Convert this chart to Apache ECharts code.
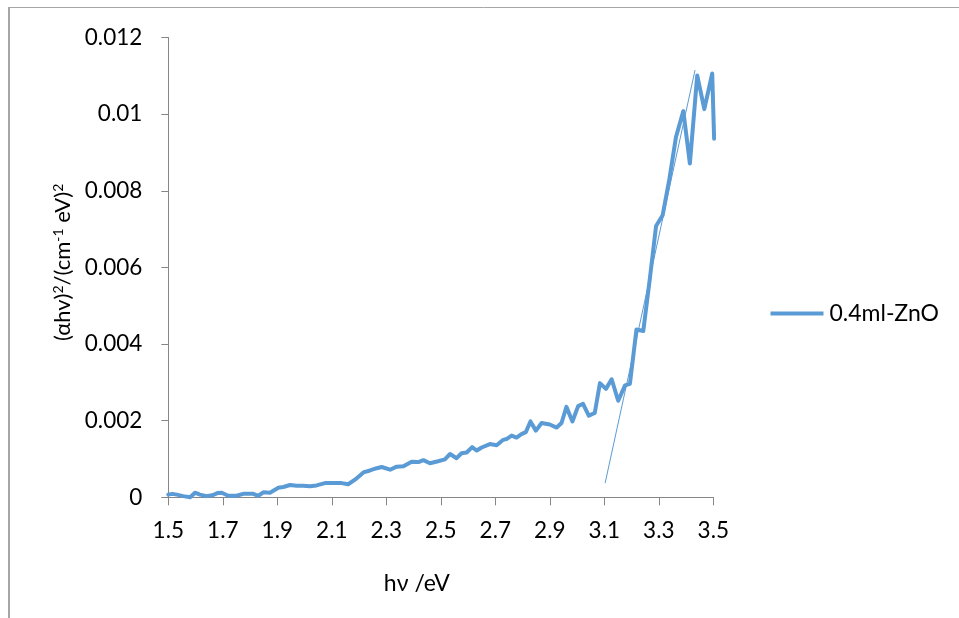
<!DOCTYPE html>
<html><head><meta charset="utf-8">
<script src="https://cdn.jsdelivr.net/npm/echarts@6/dist/echarts.min.js"></script>
<style>html,body{margin:0;padding:0;background:#fff}#c{width:959px;height:618px}</style>
</head><body><div id="c"></div>
<script>
const seriesName = '0.4ml-ZnO';
const hv = [1.500,1.515,1.531,1.555,1.580,1.598,1.616,1.641,1.665,1.680,1.696,1.720,1.750,1.775,1.812,1.830,1.849,1.873,1.904,1.922,1.947,1.971,1.995,2.020,2.044,2.075,2.105,2.136,2.160,2.185,2.216,2.240,2.265,2.283,2.314,2.338,2.363,2.393,2.418,2.436,2.460,2.490,2.515,2.534,2.558,2.576,2.595,2.615,2.632,2.650,2.680,2.705,2.729,2.741,2.760,2.778,2.796,2.812,2.829,2.849,2.870,2.900,2.925,2.943,2.961,2.983,3.004,3.022,3.043,3.065,3.084,3.106,3.127,3.151,3.176,3.194,3.218,3.243,3.267,3.290,3.314,3.339,3.363,3.390,3.414,3.441,3.467,3.496,3.503];
const ahv2 = [0.00007,0.00009,0.00007,0.00003,0.00000,0.00012,0.00007,0.00003,0.00006,0.00011,0.00012,0.00004,0.00004,0.00009,0.00009,0.00004,0.00013,0.00012,0.00025,0.00027,0.00032,0.00030,0.00030,0.00029,0.00031,0.00037,0.00037,0.00037,0.00034,0.00046,0.00065,0.00070,0.00076,0.00079,0.00072,0.00080,0.00081,0.00093,0.00092,0.00097,0.00089,0.00094,0.00099,0.00113,0.00102,0.00115,0.00117,0.00131,0.00122,0.00130,0.00139,0.00136,0.00150,0.00152,0.00161,0.00156,0.00165,0.00170,0.00198,0.00174,0.00194,0.00190,0.00182,0.00194,0.00236,0.00198,0.00238,0.00244,0.00213,0.00220,0.00298,0.00283,0.00308,0.00252,0.00292,0.00296,0.00438,0.00434,0.00570,0.00708,0.00736,0.00831,0.00940,0.01008,0.00871,0.01101,0.01013,0.01106,0.00936];
const tangentX = [3.103, 3.433];
const tangentY = [0.00037, 0.01115];
const xTickValues = [1.5,1.7,1.9,2.1,2.3,2.5,2.7,2.9,3.1,3.3,3.5];

const FONT = 'Lato';
const blue = '#5B9BD5';
const axisGray = '#868686';

const chart = echarts.init(document.getElementById('c'), null, {renderer:'canvas'});
chart.setOption({
  backgroundColor:'#fff',
  animation:false,
  textStyle:{fontFamily:FONT},
  grid:{left:168.3, right:245.7, top:37.5, bottom:120.7, containLabel:false},
  legend:{
    show:true, data:[{name:seriesName, icon:'rect'}], left:770.5, top:302, bottom:'auto', right:'auto', orient:'vertical',
    padding:0, itemWidth:53, itemHeight:4, itemGap:0,
    itemStyle:{color:blue, borderWidth:0},
    textStyle:{fontFamily:FONT, fontSize:23, color:'#000', padding:[0,0,0,1]}
  },
  xAxis:{
    type:'value', min:1.5, max:3.5,
    name:'hν /eV', nameLocation:'middle', nameGap:75,
    nameTextStyle:{fontFamily:FONT, fontSize:23, color:'#000', padding:[0,48,0,0]},
    axisLine:{show:true, onZero:false, lineStyle:{color:axisGray, width:1}},
    axisTick:{show:true, length:8, lineStyle:{color:axisGray}, customValues:xTickValues},
    axisLabel:{fontFamily:FONT, fontSize:22.5, color:'#000', margin:22, customValues:xTickValues,
      formatter:v=>Number(v).toFixed(1)},
    splitLine:{show:false}
  },
  yAxis:{
    type:'value', min:0, max:0.012, interval:0.002,
    name:'{n|(αhv)}{s|2}{n|/(cm}{s|-1}{n| eV)}{s|2}', nameLocation:'middle', nameGap:90, nameRotate:90,
    nameTextStyle:{fontFamily:FONT, fontSize:22, color:'#000', padding:[0,0,0,10],
      rich:{n:{fontFamily:FONT, fontSize:22, color:'#000'}, s:{fontFamily:FONT, fontSize:14, color:'#000', verticalAlign:'top'}}},
    axisLine:{show:true, lineStyle:{color:axisGray, width:1}},
    axisTick:{show:true, length:7, lineStyle:{color:axisGray}},
    axisLabel:{fontFamily:FONT, fontSize:22.5, color:'#000', margin:26},
    splitLine:{show:false}
  },
  graphic:[
    {type:'line', shape:{x1:9, y1:7, x2:9, y2:618}, style:{stroke:'#A6A6A6', lineWidth:2}, silent:true},
    {type:'line', shape:{x1:8, y1:7.5, x2:959, y2:7.5}, style:{stroke:'#A6A6A6', lineWidth:1}, silent:true}
  ],
  series:[
    {
      name:seriesName, type:'line', symbol:'none', clip:false,
      lineStyle:{color:blue, width:4, join:'round', cap:'round'},
      itemStyle:{color:blue},
      data:hv.map((x,i)=>[x, ahv2[i]])
    },
    {
      name:'tangent', type:'line', symbol:'none', clip:false, silent:true,
      lineStyle:{color:blue, width:1},
      itemStyle:{color:blue},
      data:tangentX.map((x,i)=>[x, tangentY[i]])
    }
  ]
});
</script>
</body></html>
